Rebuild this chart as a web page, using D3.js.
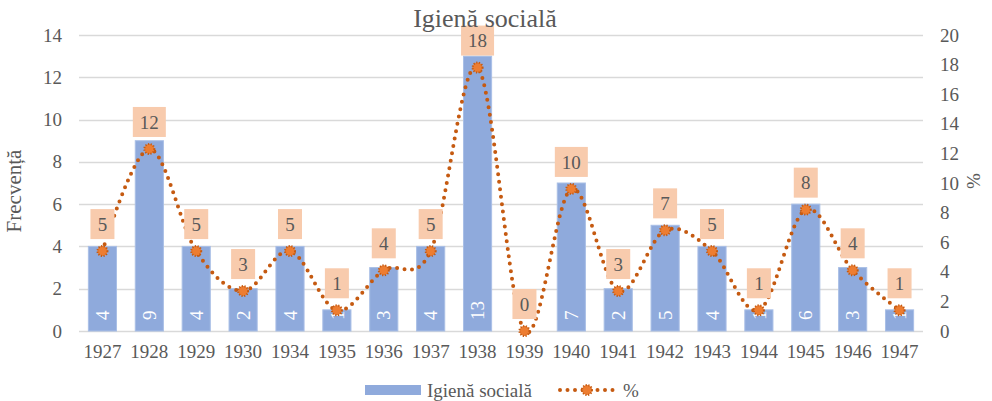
<!DOCTYPE html>
<html>
<head>
<meta charset="utf-8">
<script src="https://cdn.jsdelivr.net/npm/d3@7"></script>
<style>
  body { margin: 0; background: #fff; }
  text { font-family: "Liberation Serif", "Times New Roman", serif; }
</style>
</head>
<body>
<div id="chart"></div>
<script>
// Data
const years = ["1927", "1928", "1929", "1930", "1934", "1935", "1936", "1937", "1938",
  "1939", "1940", "1941", "1942", "1943", "1944", "1945", "1946", "1947"];
const counts = [4, 9, 4, 2, 4, 1, 3, 4, 13, 0, 7, 2, 5, 4, 1, 6, 3, 1];
const percents = [5.4, 12.3, 5.4, 2.7, 5.4, 1.4, 4.1, 5.4, 17.8, 0, 9.6, 2.7, 6.8, 5.4, 1.4, 8.2, 4.1, 1.4];
const leftTicks = [0, 2, 4, 6, 8, 10, 12, 14];
const rightTicks = [0, 2, 4, 6, 8, 10, 12, 14, 16, 18, 20];

const data = years.map((y, i) => ({year: y, count: counts[i], pct: percents[i]}));

const W = 992, H = 401;
const margin = {top: 35, right: 69, bottom: 70, left: 79};
const width = W - margin.left - margin.right;
const height = H - margin.top - margin.bottom;

const textColor = "#595959";
const barColor = "#8FAADC";
const lineColor = "#C55A11";
const markerColor = "#ED7D31";
const labelBox = "#F8CBAD";

const svg = d3.select("#chart")
  .append("svg")
  .attr("width", W)
  .attr("height", H);

const g = svg.append("g")
  .attr("transform", `translate(${margin.left},${margin.top})`);

// Scales
const x = d3.scaleBand()
  .domain(years)
  .range([0, width])
  .paddingInner(0.4)
  .paddingOuter(0.2);

const y = d3.scaleLinear().domain([0, 14]).range([height, 0]);
const y2 = d3.scaleLinear().domain([0, 20]).range([height, 0]);

// Gridlines
g.append("g")
  .selectAll("line")
  .data(leftTicks)
  .join("line")
  .attr("x1", 0)
  .attr("x2", width)
  .attr("y1", d => Math.round(y(d)) + 0.5)
  .attr("y2", d => Math.round(y(d)) + 0.5)
  .attr("stroke", "#D9D9D9")
  .attr("stroke-width", 1.3);

// Left axis
const leftAxis = g.append("g")
  .call(d3.axisLeft(y).tickValues(leftTicks).tickSize(0).tickPadding(17));
leftAxis.select(".domain").remove();
leftAxis.selectAll("text")
  .attr("fill", textColor)
  .style("font-size", "19px")
  .style("font-family", "Liberation Serif");

// Right axis
const rightAxis = g.append("g")
  .attr("transform", `translate(${width},0)`)
  .call(d3.axisRight(y2).tickValues(rightTicks).tickSize(0).tickPadding(17));
rightAxis.select(".domain").remove();
rightAxis.selectAll("text")
  .attr("fill", textColor)
  .style("font-size", "19px")
  .style("font-family", "Liberation Serif");

// Bottom axis
const bottomAxis = g.append("g")
  .attr("transform", `translate(0,${height})`)
  .call(d3.axisBottom(x).tickSize(0).tickPadding(14));
bottomAxis.select(".domain").remove();
bottomAxis.selectAll("text")
  .attr("fill", textColor)
  .style("font-size", "19px")
  .style("font-family", "Liberation Serif");

// Bars
g.append("g")
  .selectAll("rect")
  .data(data)
  .join("rect")
  .attr("x", d => x(d.year))
  .attr("y", d => y(d.count))
  .attr("width", x.bandwidth())
  .attr("height", d => height - y(d.count))
  .attr("fill", barColor)
  .attr("stroke", "#A9BFE6")
  .attr("stroke-width", d => d.count > 0 ? 1 : 0);

// Bar value labels (rotated, inside base)
g.append("g")
  .selectAll("text")
  .data(data.filter(d => d.count > 0))
  .join("text")
  .attr("transform", d => `translate(${x(d.year) + x.bandwidth() / 2},${height - 11}) rotate(-90)`)
  .attr("dy", "0.35em")
  .attr("fill", "#fff")
  .style("font-size", "19px")
  .text(d => d.count);

// Smoothed dotted line
const line = d3.line()
  .x(d => x(d.year) + x.bandwidth() / 2)
  .y(d => y2(d.pct))
  .curve(d3.curveCatmullRom.alpha(0));

g.append("path")
  .datum(data)
  .attr("d", line)
  .attr("fill", "none")
  .attr("stroke", lineColor)
  .attr("stroke-width", 4)
  .attr("stroke-linecap", "round")
  .attr("stroke-dasharray", "0 7.5");

// Markers
g.append("g")
  .selectAll("circle")
  .data(data)
  .join("circle")
  .attr("cx", d => x(d.year) + x.bandwidth() / 2)
  .attr("cy", d => y2(d.pct))
  .attr("r", 5)
  .attr("fill", markerColor)
  .attr("stroke", lineColor)
  .attr("stroke-width", 2)
  .attr("stroke-dasharray", "1.2 1.5");

// Percent labels with boxes
const labels = g.append("g")
  .selectAll("g")
  .data(data)
  .join("g")
  .attr("transform", d => `translate(${x(d.year) + x.bandwidth() / 2},${y2(d.pct) - 27})`);

labels.append("rect")
  .attr("x", d => Math.round(d.pct) >= 10 ? -16.5 : -12)
  .attr("y", -15)
  .attr("width", d => Math.round(d.pct) >= 10 ? 33 : 24)
  .attr("height", 30)
  .attr("fill", labelBox);

labels.append("text")
  .attr("text-anchor", "middle")
  .attr("dy", "0.35em")
  .attr("fill", textColor)
  .style("font-size", "19px")
  .text(d => Math.round(d.pct));

// Title
svg.append("text")
  .attr("x", 485)
  .attr("y", 27)
  .attr("text-anchor", "middle")
  .attr("fill", textColor)
  .style("font-size", "26px")
  .text("Igienă socială");

// Axis titles
svg.append("text")
  .attr("transform", `translate(21,191) rotate(-90)`)
  .attr("text-anchor", "middle")
  .attr("fill", textColor)
  .style("font-size", "21px")
  .text("Frecvență");

svg.append("text")
  .attr("transform", `translate(980,181) rotate(-90)`)
  .attr("text-anchor", "middle")
  .attr("fill", textColor)
  .style("font-size", "19px")
  .text("%");

// Legend
const legend = svg.append("g").attr("transform", "translate(0,390)");
legend.append("rect")
  .attr("x", 365)
  .attr("y", -5)
  .attr("width", 56)
  .attr("height", 10)
  .attr("fill", barColor);
legend.append("text")
  .attr("x", 427)
  .attr("dy", "0.35em")
  .attr("fill", textColor)
  .style("font-size", "19px")
  .text("Igienă socială");
legend.append("line")
  .attr("x1", 560)
  .attr("x2", 614)
  .attr("stroke", lineColor)
  .attr("stroke-width", 4)
  .attr("stroke-linecap", "round")
  .attr("stroke-dasharray", "0 7.5");
legend.append("circle")
  .attr("cx", 587)
  .attr("r", 5)
  .attr("fill", markerColor)
  .attr("stroke", lineColor)
  .attr("stroke-width", 2)
  .attr("stroke-dasharray", "1.2 1.5");
legend.append("text")
  .attr("x", 623)
  .attr("dy", "0.35em")
  .attr("fill", textColor)
  .style("font-size", "19px")
  .text("%");
</script>
</body>
</html>
